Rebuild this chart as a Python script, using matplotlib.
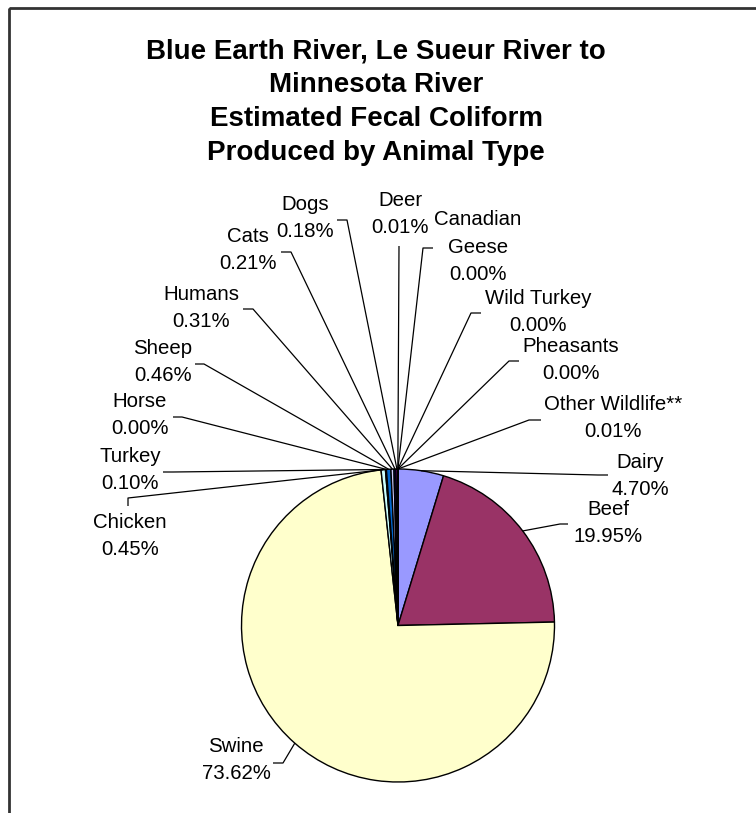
import matplotlib.pyplot as plt
from matplotlib.patches import Rectangle
import numpy as np

plt.rcParams['font.family'] = ['Liberation Sans', 'DejaVu Sans']

title_lines = ["Blue Earth River, Le Sueur River to",
               "Minnesota River",
               "Estimated Fecal Coliform",
               "Produced by Animal Type"]

categories = ["Dairy", "Beef", "Swine", "Chicken", "Turkey", "Horse", "Sheep",
              "Humans", "Cats", "Dogs", "Deer", "Canadian\nGeese", "Wild Turkey",
              "Pheasants", "Other Wildlife**"]
percents = [4.70, 19.95, 73.62, 0.45, 0.10, 0.00, 0.46,
            0.31, 0.21, 0.18, 0.01, 0.00, 0.00, 0.00, 0.01]
colors = ["#9999FF", "#993366", "#FFFFCC", "#CCFFFF", "#660066", "#FF8080", "#0066CC",
          "#CCCCFF", "#000080", "#FF00FF", "#FFFF00", "#00FFFF", "#800080",
          "#800000", "#008080"]

# label layout in pixel coords: text block centre, elbow point, end of short segment
label_pos = [(640, 476), (608, 523), (236, 760), (130, 536), (130, 470), (140, 415),
             (163, 362), (201, 308), (248, 250), (305, 218), (400, 214), (478, 247),
             (538, 312), (571, 360), (613, 418)]
elbow = [(598, 475), (560, 524), (283, 763), (128, 498), (173, 472), (182, 417),
         (204, 364), (253, 309), (291, 252), (347, 220), (399, 246), (423, 248),
         (471, 313), (509, 361), (529, 420)]
seg_end = [(608, 475), (568, 524), (273, 763), (128, 506), (163, 472), (173, 417),
           (195, 364), (243, 309), (281, 252), (337, 220), (399, 246), (433, 248),
           (481, 313), (519, 361), (541, 420)]

W, H = 756, 813
fig = plt.figure(figsize=(W / 100, H / 100), dpi=100)
ax = fig.add_axes([0, 0, 1, 1])

cx, cy, r = 398, 625.5, 156.5
# y axis is inverted (pixel-like), so counterclock=True draws clockwise on screen
wedges, _ = ax.pie(percents, colors=colors, startangle=-90, counterclock=True,
                   center=(cx, cy), radius=r,
                   wedgeprops=dict(edgecolor='black', linewidth=1.0))

for w, lab, v, tp, el, se in zip(wedges, categories, percents, label_pos, elbow, seg_end):
    mid = np.deg2rad((w.theta1 + w.theta2) / 2)
    px = cx + r * np.cos(mid)
    py = cy + r * np.sin(mid)
    ax.plot([px, el[0], se[0]], [py, el[1], se[1]], color='black', lw=0.9,
            solid_capstyle='butt')
    lines = lab.split("\n") + ["%.2f%%" % v]
    n = len(lines)
    for i, t in enumerate(lines):
        ax.text(tp[0], tp[1] + (i - (n - 1) / 2) * 27.5, t, ha='center', va='center',
                fontsize=14.7, color='black')

for i, t in enumerate(title_lines):
    ax.text(376, 51 + i * 34, t, ha='center', va='center', fontsize=20,
            fontweight='bold', color='black')

ax.add_patch(Rectangle((9, 7.5), 800, 900, fill=False, edgecolor='#333333', lw=2))

ax.set_xlim(0, W)
ax.set_ylim(H, 0)
ax.set_aspect('equal', adjustable='box')
ax.axis('off')

fig.savefig("out.png", dpi=100)
